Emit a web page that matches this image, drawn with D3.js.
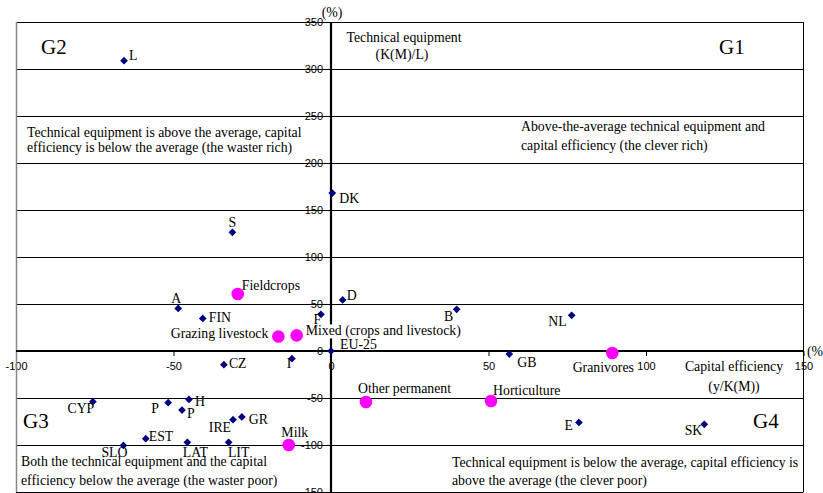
<!DOCTYPE html>
<html><head><meta charset="utf-8">
<script src="https://cdn.jsdelivr.net/npm/d3@7"></script>
<style>body{margin:0;background:#fff;overflow:hidden}svg{display:block}</style>
</head><body>
<svg id="chart" width="823" height="493"></svg>
<script>
// ---- data ----
const countryNames = ["L","DK","S","A","FIN","CZ","I","F","D","EU-25","B","NL","GB",
  "CYP","P","H","P","GR","IRE","EST","SLO","LAT","LIT","E","SK"];
const countryX = [-65.7,0.4,-31.3,-48.5,-40.7,-34.0,-12.4,-3.2,3.7,0,39.9,76.4,56.6,
  -75.6,-51.7,-45.1,-47.3,-28.3,-31.1,-58.8,-65.9,-45.6,-32.5,78.7,118.5];
const countryY = [308.8,168.0,126.2,45.3,34.7,-14.6,-8.2,39.0,54.3,0,44.3,37.9,-3.2,
  -53.9,-55.0,-51.5,-62.8,-70.2,-73.1,-93.3,-100.4,-97.2,-97.2,-76.0,-78.0];

const farmTypes = ["Fieldcrops","Grazing livestock","Mixed (crops and livestock)","Granivores",
  "Other permanent","Horticulture","Milk"];
const farmX = [-29.6,-16.7,-10.9,89.3,11.1,50.8,-13.4];
const farmY = [60.6,15.5,16.6,-2.1,-54.3,-53.2,-100.0];

const xTicks = [-100,-50,0,50,100,150];
const yTicks = [-150,-100,-50,0,50,100,150,200,250,300,350];

const groupLabels = ["G1","G2","G3","G4"];
const quadrantTexts = [
  ["Above-the-average technical equipment and","capital efficiency (the clever rich)"],
  ["Technical equipment is above the average, capital","efficiency is below the average (the waster rich)"],
  ["Both the technical equipment and the capital","efficiency below the average (the waster poor)"],
  ["Technical equipment is below the average, capital efficiency is","above the average (the clever poor)"]
];
const yAxisTitle = ["Technical equipment","(K(M)/L)"];
const xAxisTitle = ["Capital efficiency","(y/K(M))"];

// ---- label placement (anchor, dx, dy) ----
const countryLabelPos = [
  ["start",5,-1],["start",7,10],["middle",0,-5],["middle",-2,-5],["start",6,4],["start",5,3],
  ["middle",-3,9],["middle",-3.5,10],["start",4,0],["start",9,-2],["middle",-8,12],["end",-5,11],
  ["start",8,13],["middle",-12,11],["middle",-13,10],["start",6,7],["start",5,8],["start",7,7],
  ["end",-2,12],["start",3,2],["middle",-9,12],["middle",8,15],["middle",10,15],["end",-6,8],["end",-2,11]
];
const farmLabelPos = [
  ["start",4,-4],["end",-10,2],["start",9,0],["middle",-9,19],["start",-8,-9],["start",2,-6],["middle",6,-8]
];

// ---- chart ----
const svg = d3.select("#chart");
const serif = "'Liberation Serif','Times New Roman',serif";
const sans = "'Liberation Sans',Arial,sans-serif";
const fs = 13.8;

const x = d3.scaleLinear().domain([-100,150]).range([16,803.5]);
const y = d3.scaleLinear().domain([-150,350]).range([492,22]);

// y axis (ticks + labels)
const yAxis = svg.append("g").attr("transform",`translate(${x(0)},0)`)
  .call(d3.axisLeft(y).tickValues(yTicks).tickSize(5).tickSizeOuter(0).tickPadding(3).tickFormat(d=>String(d)));
yAxis.select(".domain").remove();
yAxis.selectAll("line").attr("stroke","#000");
yAxis.selectAll("text").attr("font-family",sans).attr("font-size",11).attr("fill","#000");

// x axis
const xAxis = svg.append("g").attr("transform",`translate(0,${y(0)})`)
  .call(d3.axisBottom(x).tickValues(xTicks).tickSize(5).tickSizeOuter(0).tickPadding(6).tickFormat(d=>String(d)));
xAxis.select(".domain").remove();
xAxis.selectAll("line").attr("stroke","#000");
xAxis.selectAll("text").attr("font-family",sans).attr("font-size",11).attr("fill","#000");

// gridlines
svg.append("g").selectAll("line").data(yTicks).join("line")
  .attr("x1",x(-100)).attr("x2",x(150))
  .attr("y1",d=>Math.round(y(d))+0.5).attr("y2",d=>Math.round(y(d))+0.5)
  .attr("stroke","#000").attr("stroke-width",1);

// borders
svg.append("line").attr("x1",x(-100)+0.5).attr("x2",x(-100)+0.5).attr("y1",y(350)).attr("y2",y(-150))
  .attr("stroke","#888").attr("stroke-width",1.5);
svg.append("line").attr("x1",x(150)).attr("x2",x(150)).attr("y1",y(350)).attr("y2",y(-150))
  .attr("stroke","#000").attr("stroke-width",1);

// axis lines
svg.append("line").attr("x1",x(-100)).attr("x2",x(150)).attr("y1",y(0)).attr("y2",y(0))
  .attr("stroke","#000").attr("stroke-width",2);
svg.append("line").attr("x1",x(0)).attr("x2",x(0)).attr("y1",y(350)).attr("y2",y(-150))
  .attr("stroke","#000").attr("stroke-width",2.2);

// axis unit labels
svg.append("text").attr("x",x(0)+1).attr("y",17).attr("text-anchor","middle")
  .attr("font-family",serif).attr("font-size",fs).text("(%)");
svg.append("text").attr("x",x(150)+3.5).attr("y",y(0)+5)
  .attr("font-family",serif).attr("font-size",fs).text("(%)");

// axis titles
const yt = svg.append("text").attr("font-family",serif).attr("font-size",fs).attr("text-anchor","middle");
yt.append("tspan").attr("x",404).attr("y",42).text(yAxisTitle[0]);
yt.append("tspan").attr("x",402).attr("y",58.5).text(yAxisTitle[1]);
const xt = svg.append("text").attr("font-family",serif).attr("font-size",fs).attr("text-anchor","middle");
xt.append("tspan").attr("x",734).attr("y",371).text(xAxisTitle[0]);
xt.append("tspan").attr("x",734).attr("y",391).text(xAxisTitle[1]);

// group labels
const gPos = [[719,54],[41,54],[23,428],[753,428]];
svg.append("g").selectAll("text").data(groupLabels).join("text")
  .attr("x",(d,i)=>gPos[i][0]).attr("y",(d,i)=>gPos[i][1])
  .attr("font-family",serif).attr("font-size",21).text(d=>d);

// quadrant texts
const qPos = [[521,130.5,19.8],[27,137,15.3],[21,466,18.7],[452,467,18]];
quadrantTexts.forEach((lines,i)=>{
  const t = svg.append("text").attr("font-family",serif).attr("font-size",fs);
  lines.forEach((l,j)=>t.append("tspan").attr("x",qPos[i][0]).attr("y",qPos[i][1]+j*qPos[i][2]).text(l));
});

// country diamonds
const countries = countryNames.map((n,i)=>({name:n,x:countryX[i],y:countryY[i],pos:countryLabelPos[i]}));
svg.append("g").selectAll("path").data(countries).join("path")
  .attr("transform",d=>`translate(${x(d.x)},${y(d.y)}) rotate(45)`)
  .attr("d",d3.symbol(d3.symbolSquare,30)())
  .attr("fill","#000080");

// farm type circles
const farms = farmTypes.map((n,i)=>({name:n,x:farmX[i],y:farmY[i],pos:farmLabelPos[i]}));
svg.append("g").selectAll("circle").data(farms).join("circle")
  .attr("cx",d=>x(d.x)).attr("cy",d=>y(d.y)).attr("r",6.3).attr("fill","#FF00FF");

// labels
svg.append("g").selectAll("text").data(countries).join("text")
  .attr("x",d=>x(d.x)+d.pos[1]).attr("y",d=>y(d.y)+d.pos[2]).attr("text-anchor",d=>d.pos[0])
  .attr("font-family",serif).attr("font-size",fs).text(d=>d.name);

const fl = svg.append("g").selectAll("g").data(farms).join("g");
fl.append("text")
  .attr("x",d=>x(d.x)+d.pos[1]).attr("y",d=>y(d.y)+d.pos[2]).attr("text-anchor",d=>d.pos[0])
  .attr("font-family",serif).attr("font-size",fs).text(d=>d.name);
// white background behind the "Mixed" label (it covers the y axis)
fl.filter(d=>d.name.startsWith("Mixed")).each(function(){
  const t = d3.select(this).select("text");
  const b = t.node().getBBox();
  d3.select(this).insert("rect","text").attr("x",b.x).attr("y",b.y+1).attr("width",b.width+1).attr("height",b.height-2).attr("fill","#fff");
});
</script>
</body></html>
